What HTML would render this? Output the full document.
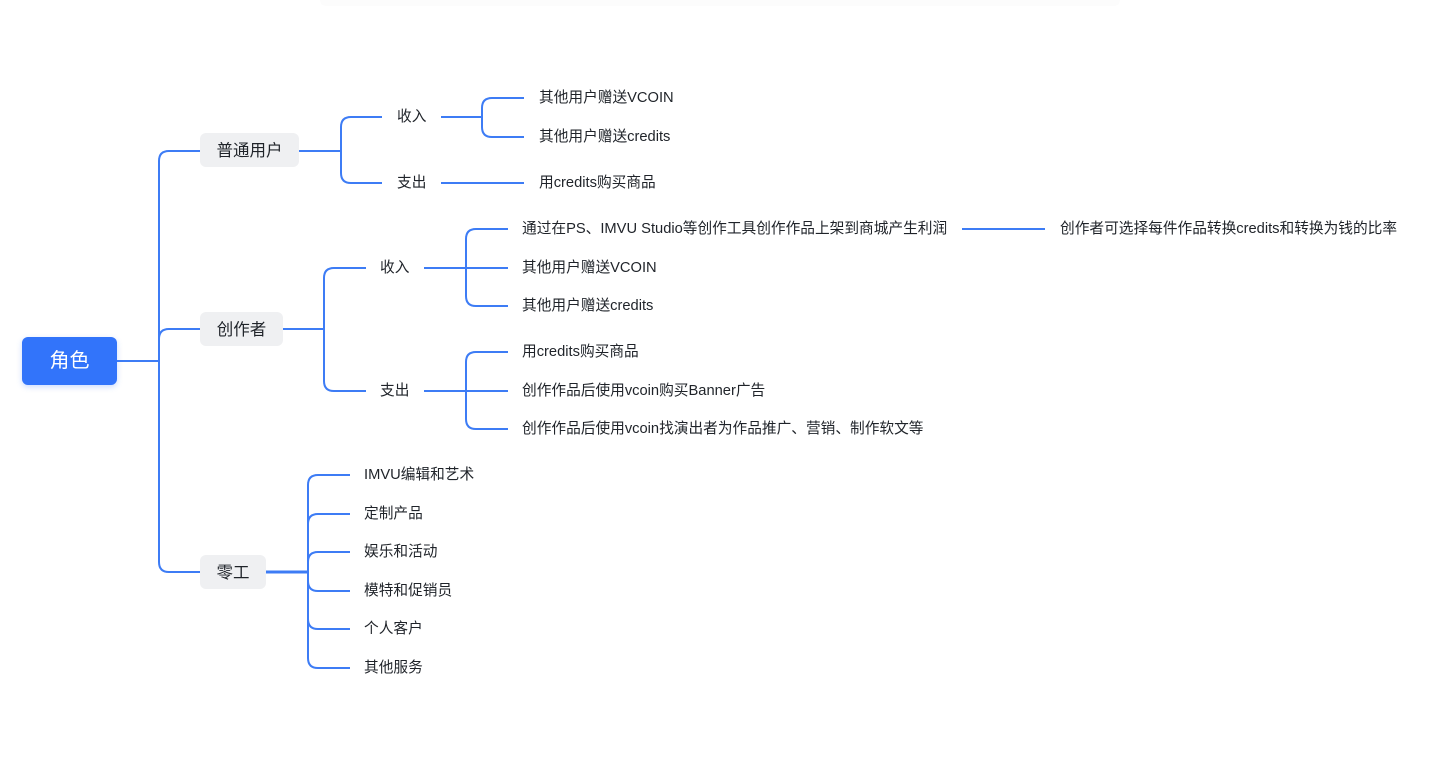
<!DOCTYPE html>
<html><head><meta charset="utf-8"><style>
html,body{margin:0;padding:0;background:#fff;}
body{width:1436px;height:778px;position:relative;overflow:hidden;font-family:"Liberation Sans","Noto Sans CJK SC",sans-serif;color:#1f2329;}
.t{position:absolute;font-size:14.7px;line-height:20px;white-space:nowrap;}
.b{position:absolute;background:#eff0f2;border-radius:6px;font-size:16.5px;text-align:center;line-height:36px;height:34px;}
.root{position:absolute;left:22px;top:337px;width:95px;height:48px;background:#3274fa;border-radius:6px;color:#fff;font-size:20px;line-height:48px;text-align:center;box-shadow:0 2px 6px rgba(50,116,250,.25);}
.top{position:absolute;left:320px;top:0;width:800px;height:6px;background:#fcfcfc;border-radius:0 0 40px 40px;}
</style></head><body>
<div class="top"></div>
<svg width="1436" height="778" style="position:absolute;left:0;top:0" fill="none" stroke="#3d7cf5" stroke-width="2">
<path d="M117 361 H159"/>
<path d="M159 361 V161 Q159 151 169 151 H200"/>
<path d="M159 361 V339 Q159 329 169 329 H200"/>
<path d="M159 361 V562 Q159 572 169 572 H200"/>
<path d="M299 151 H341"/>
<path d="M341 151 V127 Q341 117 351 117 H382"/>
<path d="M341 151 V173 Q341 183 351 183 H382"/>
<path d="M441 117 H482"/>
<path d="M482 117 V108 Q482 98 492 98 H524"/>
<path d="M482 117 V127 Q482 137 492 137 H524"/>
<path d="M441 183 H524"/>
<path d="M283 329 H324"/>
<path d="M324 329 V278 Q324 268 334 268 H366"/>
<path d="M324 329 V381 Q324 391 334 391 H366"/>
<path d="M424 268 H466"/>
<path d="M466 268 V239 Q466 229 476 229 H508"/>
<path d="M466 268 H508"/>
<path d="M466 268 V296 Q466 306 476 306 H508"/>
<path d="M962 229 H1045"/>
<path d="M424 391 H466"/>
<path d="M466 391 V362 Q466 352 476 352 H508"/>
<path d="M466 391 H508"/>
<path d="M466 391 V419 Q466 429 476 429 H508"/>
<path d="M266 572 H308" stroke-width="3"/>
<path d="M308 572 V485 Q308 475 318 475 H350"/>
<path d="M308 572 V524 Q308 514 318 514 H350"/>
<path d="M308 572 V562 Q308 552 318 552 H350"/>
<path d="M308 572 V581 Q308 591 318 591 H350"/>
<path d="M308 572 V619 Q308 629 318 629 H350"/>
<path d="M308 572 V658 Q308 668 318 668 H350"/>
</svg>
<div class="root">角色</div>
<div class="b" style="left:200px;top:133px;width:99px;">普通用户</div>
<div class="b" style="left:200px;top:312px;width:83px;">创作者</div>
<div class="b" style="left:200px;top:555px;width:66px;">零工</div>

<div class="t" style="left:397px;top:107px">收入</div>
<div class="t" style="left:397px;top:173px">支出</div>
<div class="t" style="left:539px;top:88px">其他用户赠送VCOIN</div>
<div class="t" style="left:539px;top:127px">其他用户赠送credits</div>
<div class="t" style="left:539px;top:173px">用credits购买商品</div>

<div class="t" style="left:380px;top:258px">收入</div>
<div class="t" style="left:380px;top:381px">支出</div>
<div class="t" style="left:522px;top:219px">通过在PS、IMVU Studio等创作工具创作作品上架到商城产生利润</div>
<div class="t" style="left:1060px;top:219px">创作者可选择每件作品转换credits和转换为钱的比率</div>
<div class="t" style="left:522px;top:258px">其他用户赠送VCOIN</div>
<div class="t" style="left:522px;top:296px">其他用户赠送credits</div>
<div class="t" style="left:522px;top:342px">用credits购买商品</div>
<div class="t" style="left:522px;top:381px">创作作品后使用vcoin购买Banner广告</div>
<div class="t" style="left:522px;top:419px">创作作品后使用vcoin找演出者为作品推广、营销、制作软文等</div>

<div class="t" style="left:364px;top:465px">IMVU编辑和艺术</div>
<div class="t" style="left:364px;top:504px">定制产品</div>
<div class="t" style="left:364px;top:542px">娱乐和活动</div>
<div class="t" style="left:364px;top:581px">模特和促销员</div>
<div class="t" style="left:364px;top:619px">个人客户</div>
<div class="t" style="left:364px;top:658px">其他服务</div>
</body></html>
